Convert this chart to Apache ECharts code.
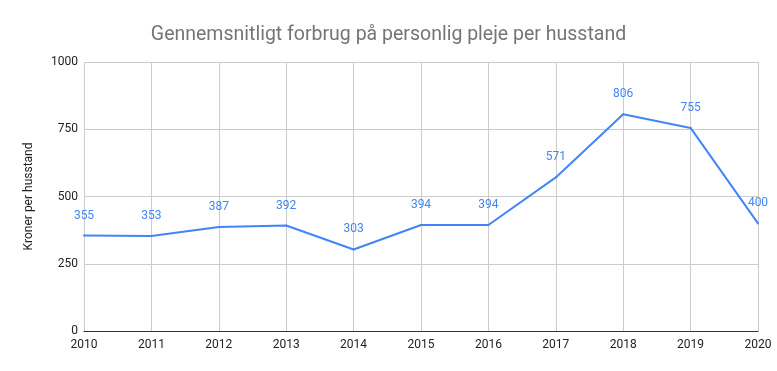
<!DOCTYPE html>
<html><head><meta charset="utf-8">
<script src="https://cdn.jsdelivr.net/npm/echarts@6/dist/echarts.min.js"></script>
<style>html,body{margin:0;padding:0;background:#fff}#c{width:777px;height:371px}</style>
</head><body><div id="c"></div>
<script>
const years = ['2010','2011','2012','2013','2014','2015','2016','2017','2018','2019','2020'];
const values = [355,353,387,392,303,394,394,571,806,755,400];
const yTicks = [0,250,500,750,1000];
const chart = echarts.init(document.getElementById('c'));
chart.setOption({
  animation:false,
  title:{text:'Gennemsnitligt forbrug på personlig pleje per husstand',left:'center',top:20,
    textStyle:{fontFamily:'Roboto',fontSize:19.5,fontWeight:'normal',color:'#757575'}},
  grid:{left:84,right:19,top:62,bottom:40},
  xAxis:{type:'category',data:years,boundaryGap:false,
    axisLine:{lineStyle:{color:'#333',width:1}},axisTick:{show:false},
    axisLabel:{color:'#222',fontFamily:'Roboto',fontSize:12,margin:8},
    splitLine:{show:true,lineStyle:{color:'#ccc'}}},
  yAxis:{type:'value',min:yTicks[0],max:yTicks[yTicks.length-1],interval:250,
    name:'Kroner per husstand',nameLocation:'middle',nameGap:49,
    nameTextStyle:{color:'#222',fontFamily:'Roboto',fontSize:12},
    axisLine:{show:false},axisTick:{show:false},
    axisLabel:{color:'#222',fontFamily:'Roboto',fontSize:12,margin:6,formatter:v=>String(v)},
    splitLine:{lineStyle:{color:'#ccc'}}},
  series:[{type:'line',data:values,symbol:'circle',symbolSize:2,showSymbol:true,
    itemStyle:{color:'#4285f4',borderWidth:0},
    lineStyle:{color:'#4285f4',width:2},
    labelLayout:{hideOverlap:false},
    label:{show:true,position:'top',distance:13,color:'#4285f4',fontFamily:'Roboto',fontSize:12}}]
});
</script></body></html>
